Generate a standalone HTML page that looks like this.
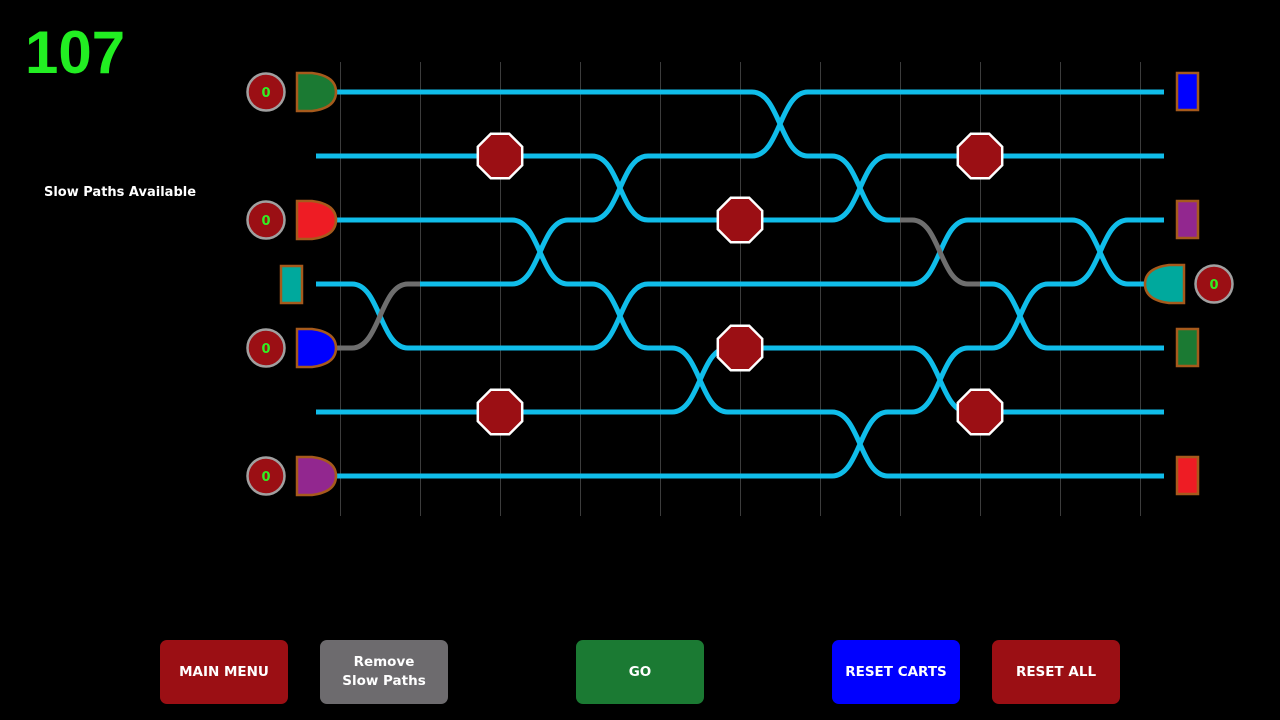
<!DOCTYPE html>
<html><head><meta charset="utf-8"><style>
body{margin:0;background:#000;width:1280px;height:720px;overflow:hidden;position:relative;font-family:"DejaVu Sans","Liberation Sans",sans-serif}
.btn{position:absolute;top:640px;width:128px;height:64px;border-radius:7px;color:#fff;font-weight:bold;font-size:13.5px;display:flex;align-items:center;justify-content:center;text-align:center;line-height:19px}
</style></head><body>
<svg width="1280" height="720" style="position:absolute;left:0;top:0">
<g stroke="#3c3c3c" stroke-width="1">
<line x1="340.5" y1="62" x2="340.5" y2="516"/><line x1="420.5" y1="62" x2="420.5" y2="516"/><line x1="500.5" y1="62" x2="500.5" y2="516"/><line x1="580.5" y1="62" x2="580.5" y2="516"/><line x1="660.5" y1="62" x2="660.5" y2="516"/><line x1="740.5" y1="62" x2="740.5" y2="516"/><line x1="820.5" y1="62" x2="820.5" y2="516"/><line x1="900.5" y1="62" x2="900.5" y2="516"/><line x1="980.5" y1="62" x2="980.5" y2="516"/><line x1="1060.5" y1="62" x2="1060.5" y2="516"/><line x1="1140.5" y1="62" x2="1140.5" y2="516"/>
</g>
<g stroke="#10bdea" stroke-width="5" fill="none">
<line x1="336" y1="92" x2="1164" y2="92"/>
<line x1="316" y1="156" x2="1164" y2="156"/>
<line x1="336" y1="220" x2="1164" y2="220"/>
<line x1="316" y1="284" x2="1145" y2="284"/>
<line x1="336" y1="348" x2="1164" y2="348"/>
<line x1="316" y1="412" x2="1164" y2="412"/>
<line x1="336" y1="476" x2="1164" y2="476"/>
</g>
<g fill="#000">
<rect x="341" y="280" width="79" height="8"/><rect x="341" y="344" width="79" height="8"/>
<rect x="501" y="216" width="79" height="8"/><rect x="501" y="280" width="79" height="8"/>
<rect x="581" y="152" width="79" height="8"/><rect x="581" y="216" width="79" height="8"/>
<rect x="581" y="280" width="79" height="8"/><rect x="581" y="344" width="79" height="8"/>
<rect x="661" y="344" width="79" height="8"/><rect x="661" y="408" width="79" height="8"/>
<rect x="741" y="88" width="79" height="8"/><rect x="741" y="152" width="79" height="8"/>
<rect x="821" y="152" width="79" height="8"/><rect x="821" y="216" width="79" height="8"/>
<rect x="821" y="408" width="79" height="8"/><rect x="821" y="472" width="79" height="8"/>
<rect x="901" y="216" width="79" height="8"/><rect x="901" y="280" width="79" height="8"/>
<rect x="901" y="344" width="79" height="8"/><rect x="901" y="408" width="79" height="8"/>
<rect x="981" y="280" width="79" height="8"/><rect x="981" y="344" width="79" height="8"/>
<rect x="1061" y="216" width="79" height="8"/><rect x="1061" y="280" width="79" height="8"/>
</g>
<g stroke="#10bdea" stroke-width="5" fill="none">
<path d="M340 284H352C380 284 380 348 408 348H420"/>
<path d="M500 220H512C540 220 540 284 568 284H580M500 284H512C540 284 540 220 568 220H580"/>
<path d="M580 156H592C620 156 620 220 648 220H660M580 220H592C620 220 620 156 648 156H660"/>
<path d="M580 284H592C620 284 620 348 648 348H660M580 348H592C620 348 620 284 648 284H660"/>
<path d="M660 348H672C700 348 700 412 728 412H740M660 412H672C700 412 700 348 728 348H740"/>
<path d="M740 92H752C780 92 780 156 808 156H820M740 156H752C780 156 780 92 808 92H820"/>
<path d="M820 156H832C860 156 860 220 888 220H900M820 220H832C860 220 860 156 888 156H900"/>
<path d="M820 412H832C860 412 860 476 888 476H900M820 476H832C860 476 860 412 888 412H900"/>
<path d="M900 284H912C940 284 940 220 968 220H980"/>
<path d="M900 348H912C940 348 940 412 968 412H980M900 412H912C940 412 940 348 968 348H980"/>
<path d="M980 284H992C1020 284 1020 348 1048 348H1060M980 348H992C1020 348 1020 284 1048 284H1060"/>
<path d="M1060 220H1072C1100 220 1100 284 1128 284H1140M1060 284H1072C1100 284 1100 220 1128 220H1140"/>
</g>
<g stroke="#6e6e6e" stroke-width="5" fill="none">
<path d="M336 348H352C380 348 380 284 408 284H420"/>
<path d="M900 220H912C940 220 940 284 968 284H980"/>
</g>
<g fill="#9b0f14" stroke="#fff" stroke-width="2.5">
<polygon points="509.2,133.8 522.2,146.8 522.2,165.2 509.2,178.2 490.8,178.2 477.8,165.2 477.8,146.8 490.8,133.8"/>
<polygon points="989.2,133.8 1002.2,146.8 1002.2,165.2 989.2,178.2 970.8,178.2 957.8,165.2 957.8,146.8 970.8,133.8"/>
<polygon points="749.2,197.8 762.2,210.8 762.2,229.2 749.2,242.2 730.8,242.2 717.8,229.2 717.8,210.8 730.8,197.8"/>
<polygon points="749.2,325.8 762.2,338.8 762.2,357.2 749.2,370.2 730.8,370.2 717.8,357.2 717.8,338.8 730.8,325.8"/>
<polygon points="509.2,389.8 522.2,402.8 522.2,421.2 509.2,434.2 490.8,434.2 477.8,421.2 477.8,402.8 490.8,389.8"/>
<polygon points="989.2,389.8 1002.2,402.8 1002.2,421.2 989.2,434.2 970.8,434.2 957.8,421.2 957.8,402.8 970.8,389.8"/>
</g>
<g stroke="#a65a1c" stroke-width="2.5">
<path d="M297 73H312Q336 76 336 92Q336 108 312 111H297Z" fill="#1b7a33"/>
<path d="M297 201H312Q336 204 336 220Q336 236 312 239H297Z" fill="#ee1c24"/>
<path d="M297 329H312Q336 332 336 348Q336 364 312 367H297Z" fill="#0000ff"/>
<path d="M297 457H312Q336 460 336 476Q336 492 312 495H297Z" fill="#92278f"/>
<path d="M1184 265H1169Q1145 268 1145 284Q1145 300 1169 303H1184Z" fill="#00a99d"/>
<rect x="281" y="266" width="21" height="37" fill="#00a99d"/>
<rect x="1177" y="73" width="21" height="37" fill="#0000ff"/>
<rect x="1177" y="201" width="21" height="37" fill="#92278f"/>
<rect x="1177" y="329" width="21" height="37" fill="#1b7a33"/>
<rect x="1177" y="457" width="21" height="37" fill="#ee1c24"/>
</g>
<g fill="#9b0f14" stroke="#a0a0a0" stroke-width="2.5">
<circle cx="266" cy="92" r="18.5"/><circle cx="266" cy="220" r="18.5"/><circle cx="266" cy="348" r="18.5"/><circle cx="266" cy="476" r="18.5"/><circle cx="1214" cy="284" r="18.5"/>
</g>
<g fill="#33ee22" font-size="13" font-weight="bold" text-anchor="middle" font-family="DejaVu Sans,Liberation Sans,sans-serif">
<text x="266" y="97">0</text><text x="266" y="225">0</text><text x="266" y="353">0</text><text x="266" y="481">0</text><text x="1214" y="289">0</text>
</g>
<text x="25" y="73" fill="#22ee22" font-size="60" font-weight="bold" font-family="Liberation Sans,sans-serif">107</text>
<text x="120" y="196" fill="#fff" font-size="13" font-weight="bold" text-anchor="middle">Slow Paths Available</text>
</svg>
<div class="btn" style="left:160px;background:#9b0f14">MAIN MENU</div>
<div class="btn" style="left:320px;background:#6d6b6e">Remove<br>Slow Paths</div>
<div class="btn" style="left:576px;background:#1b7a33">GO</div>
<div class="btn" style="left:832px;background:#0000ff">RESET CARTS</div>
<div class="btn" style="left:992px;background:#9b0f14">RESET ALL</div>
</body></html>
